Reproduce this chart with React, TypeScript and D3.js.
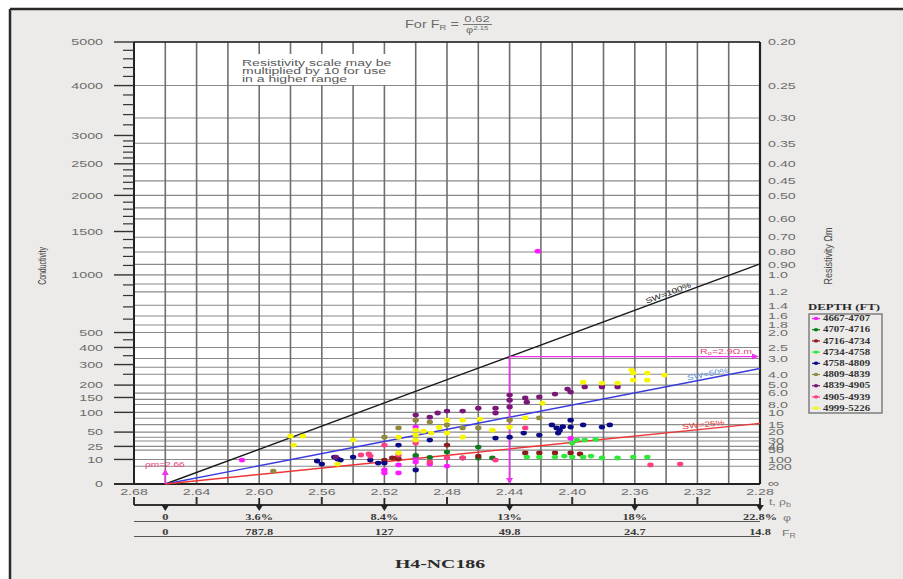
import React from "react";
import * as d3 from "d3";

// ---- Bulk density scale (g/cc) ----
const densityGrid = [2.68, 2.66, 2.64, 2.62, 2.6, 2.58, 2.56, 2.54, 2.52, 2.5, 2.48, 2.46, 2.44, 2.42, 2.4, 2.38, 2.36, 2.34, 2.32, 2.3, 2.28];
const densityLabels = [2.68, 2.64, 2.6, 2.56, 2.52, 2.48, 2.44, 2.4, 2.36, 2.32, 2.28];
const densityUpTicks = [2.68, 2.64, 2.56, 2.48, 2.4, 2.32];
const porosityDensities = [2.66, 2.6, 2.52, 2.44, 2.36, 2.28];
const porosityLabels = ["0", "3.6%", "8.4%", "13%", "18%", "22.8%"];
const formationFactorLabels = ["0", "787.8", "127", "49.8", "24.7", "14.8"];

// ---- Conductivity (mmho/m) and resistivity (ohm.m) scales ----
const conductivityLabels = [5000, 4000, 3000, 2500, 2000, 1500, 1000, 500, 400, 300, 200, 150, 100, 50, 25, 10, 0];
const conductivityMinor = [4800, 4600, 4400, 4200, 3800, 3600, 3400, 3200, 2900, 2800, 2700, 2600, 2400, 2300, 2200, 2100, 1900, 1800, 1700, 1600, 1400, 1300, 1200, 1100, 900, 800, 700, 600, 450, 350, 250];
const resistivityLabels = ["0.20", "0.25", "0.30", "0.35", "0.40", "0.45", "0.50", "0.60", "0.70", "0.80", "0.90", "1.0", "1.2", "1.4", "1.6", "1.8", "2.0", "2.5", "3.0", "4.0", "5.0", "6.0", "8.0", "10", "15", "20", "30", "40", "50", "100", "200"];
const resistivityExtraGrid = [0.55, 1.1, 3.5, 7.0, 12, 25];

// ---- Archie parameters ----
const tortuosityA = 0.62;
const cementationM = 2.15;
const saturationN = 2;
const matrixDensity = 2.66;
const fluidDensity = 1.0;
const roDensity = 2.44;
const roResistivity = 2.9;
const swValues = [1.0, 0.5, 0.25];
const swLabels = ["SW=100%", "SW=50%", "SW=25%"];

// ---- Depth intervals (ft) and readings [bulk density, conductivity] ----
const depthLabels = ["4667-4707", "4707-4716", "4716-4734", "4734-4758", "4758-4809", "4809-4839", "4839-4905", "4905-4939", "4999-5226"];

const depth4667 = [[2.611, 9.5], [2.52, 3.0], [2.52, 1.8], [2.511, 5.8], [2.511, 1.8], [2.5, 61], [2.5, 12], [2.5, 7.9], [2.48, 5.1], [2.401, 38], [2.422, 1260], [2.491, 6.4]];
const depth4707 = [[2.5, 14], [2.491, 12], [2.48, 17.6], [2.47, 11.3], [2.46, 24], [2.46, 11.3], [2.451, 11.3]];
const depth4716 = [[2.52, 9.5], [2.515, 11.3], [2.512, 11.3], [2.511, 10.4], [2.46, 13.2], [2.43, 16.5], [2.421, 16.5], [2.411, 16.5], [2.401, 16.5], [2.395, 15.4], [2.48, 27]];
const depth4734 = [[2.429, 12.2], [2.421, 12.2], [2.411, 12.2], [2.405, 13.2], [2.4, 12.2], [2.393, 12.2], [2.388, 13.2], [2.381, 11.3], [2.371, 11.3], [2.361, 12.2], [2.352, 12.2], [2.4, 30], [2.397, 35], [2.392, 35], [2.385, 36]];
const depth4758 = [[2.563, 8.7], [2.56, 6.4], [2.552, 12.2], [2.55, 10.4], [2.548, 9.5], [2.54, 12.2], [2.529, 9.5], [2.524, 7.1], [2.52, 7.1], [2.511, 27], [2.5, 3.0], [2.491, 35], [2.449, 38.5], [2.44, 40], [2.431, 48], [2.421, 44], [2.413, 66], [2.41, 59], [2.408, 54], [2.409, 48], [2.406, 62], [2.401, 78], [2.401, 61], [2.393, 66], [2.381, 61], [2.376, 66]];
const depth4809 = [[2.591, 2.5], [2.52, 40], [2.511, 59], [2.5, 78], [2.491, 73], [2.48, 66], [2.47, 59], [2.46, 59], [2.44, 78], [2.421, 84]];
const depth4839 = [[2.551, 12.2], [2.5, 92], [2.491, 86], [2.486, 98], [2.48, 104], [2.47, 104], [2.46, 113], [2.449, 113], [2.449, 98], [2.44, 159], [2.44, 140], [2.44, 117], [2.43, 148], [2.429, 133], [2.421, 152], [2.411, 163], [2.403, 183], [2.401, 171], [2.392, 192], [2.381, 192], [2.371, 192]];
const depth4905 = [[2.535, 14.3], [2.53, 15.4], [2.529, 13.2], [2.52, 27], [2.511, 14.3], [2.5, 30], [2.491, 7.9], [2.48, 11.3], [2.47, 11.3], [2.449, 9.5], [2.43, 59], [2.35, 5.8], [2.331, 6.4]];
const depth4999 = [[2.58, 42], [2.572, 42], [2.578, 27], [2.55, 6.4], [2.54, 35], [2.511, 16.5], [2.511, 40], [2.5, 54], [2.5, 44], [2.5, 35], [2.495, 52], [2.49, 48], [2.485, 60], [2.48, 78], [2.48, 48], [2.47, 78], [2.47, 40], [2.459, 81], [2.451, 54], [2.44, 61], [2.43, 84], [2.419, 130], [2.393, 213], [2.381, 209], [2.371, 209], [2.362, 271], [2.361, 256], [2.361, 222], [2.352, 256], [2.352, 222], [2.341, 246]];

const seriesPoints = [depth4667, depth4707, depth4716, depth4734, depth4758, depth4809, depth4839, depth4905, depth4999];
const seriesColors = ["#ff1aff", "#0b7d1a", "#8e1c1c", "#2fe83a", "#0a0a86", "#8f8a3c", "#7a1678", "#ff3d86", "#f6f600"];
const swColors = ["#1a1a1a", "#3a3ae0", "#ee3535"];
const swLabelColors = ["#1a1a1a", "#5f8fdc", "#e83a3a"];
const swLabelAt = [2.338, 2.313, 2.316];

// ---- layout ----
const W = 903;
const H = 579;
const left = 134;
const right = 760;
const top = 42;
const bottom = 484;

const x = d3.scaleLinear().domain([2.68, 2.28]).range([left, right]);
const y = d3.scalePow().exponent(1 / cementationM).domain([0, 5000]).range([bottom, top]);

const porosity = (rho: number) => (matrixDensity - rho) / (matrixDensity - fluidDensity);
const formationFactor = (rho: number) => tortuosityA / Math.pow(porosity(rho), cementationM);
const rw = roResistivity / formationFactor(roDensity);
const conductivityAt = (rho: number, sw: number) => {
  const phi = porosity(rho);
  if (phi <= 0) return 0;
  return (1000 * Math.pow(sw, saturationN)) / (formationFactor(rho) * rw);
};

const SANS = "'Liberation Sans', Arial, sans-serif";
const SERIF = "'Liberation Serif', 'Times New Roman', serif";

function T(props: {
  x: number; y: number; sx?: number; rot?: number; anchor?: string; size: number;
  fill?: string; family?: string; weight?: string | number; children: React.ReactNode;
}) {
  const { x: tx, y: ty, sx = 1.5, rot = 0, anchor = "start", size, fill = "#6b6b6b", family = SANS, weight = "normal", children } = props;
  return (
    <text
      transform={`translate(${tx},${ty}) rotate(${rot}) scale(${sx},1)`}
      textAnchor={anchor as any}
      fontSize={size}
      fill={fill}
      fontFamily={family}
      fontWeight={weight as any}
    >
      {children}
    </text>
  );
}

export default function App() {
  const resGrid = [...resistivityLabels.map(Number), ...resistivityExtraGrid];

  return (
    <svg width={W} height={H} style={{ position: "absolute", left: 0, top: 0, background: "#ffffff" }}>
      {/* sheet */}
      <rect x={10} y={9} width={W - 10} height={H - 9} fill="#ecebe9" />
      <line x1={10} y1={9} x2={W} y2={9} stroke="#2a2a2a" strokeWidth={2.5} />
      <line x1={10} y1={9} x2={10} y2={H} stroke="#2a2a2a" strokeWidth={2.5} />

      {/* title formula */}
      <text fontSize={10} fill="#6b6b6b" fontFamily={SANS} transform="translate(405,28) scale(1.45,1)">
        For F<tspan fontSize={6.5} dy={2}>R</tspan><tspan dy={-2}> =</tspan>
      </text>
      <T x={477} y={22} anchor="middle" size={9} sx={1.45}>0.62</T>
      <line x1={463} y1={24.5} x2={492} y2={24.5} stroke="#6b6b6b" strokeWidth={0.9} />
      <text fontSize={8.5} fill="#6b6b6b" fontFamily={SANS} transform="translate(466,33) scale(1.3,1)">
        φ<tspan fontSize={6} dy={-3.5}>2.15</tspan>
      </text>

      {/* plot background */}
      <rect x={left} y={top} width={right - left} height={bottom - top} fill="#ffffff" />

      {/* horizontal grid (resistivity) */}
      {resGrid.map((r, i) => (
        <line key={`h${i}`} x1={left} x2={right} y1={y(1000 / r)} y2={y(1000 / r)} stroke="#8a8a8a" strokeWidth={1.1} />
      ))}
      {/* vertical grid (density) */}
      {densityGrid.map((d, i) => (
        <line key={`v${i}`} x1={x(d)} x2={x(d)} y1={top} y2={bottom} stroke="#6f6f6f" strokeWidth={1.6} />
      ))}

      {/* note */}
      <rect x={238} y={54} width={168} height={31} fill="#ffffff" />
      <T x={242} y={66} size={8.5} sx={1.65} fill="#5a5a5a">Resistivity scale may be</T>
      <T x={242} y={74} size={8.5} sx={1.65} fill="#5a5a5a">multiplied by 10 for use</T>
      <T x={242} y={82} size={8.5} sx={1.65} fill="#5a5a5a">in a higher range</T>

      {/* frame */}
      <line x1={left} x2={right} y1={top} y2={top} stroke="#222" strokeWidth={1.6} />
      <line x1={left} x2={left} y1={top} y2={bottom} stroke="#222" strokeWidth={2} />
      <line x1={right} x2={right} y1={top} y2={bottom} stroke="#222" strokeWidth={2.2} />
      <line x1={114} x2={right} y1={bottom} y2={bottom} stroke="#222" strokeWidth={2} />

      {/* left conductivity axis */}
      {conductivityLabels.map((c) => (
        <g key={`cl${c}`}>
          <line x1={114} x2={left} y1={y(c)} y2={y(c)} stroke="#333" strokeWidth={1.4} />
          <T x={103} y={y(c) + 3.3} anchor="end" size={9.5}>{String(c)}</T>
        </g>
      ))}
      {conductivityMinor.map((c) => (
        <line key={`cm${c}`} x1={123} x2={left} y1={y(c)} y2={y(c)} stroke="#333" strokeWidth={1.2} />
      ))}
      <T x={46} y={266} rot={-90} anchor="middle" size={11} sx={0.63} fill="#3a3a3a">Conductivity</T>

      {/* right resistivity axis */}
      {resistivityLabels.map((r) => (
        <T key={`rl${r}`} x={768} y={y(1000 / Number(r)) + 3.3} size={9.5}>{r}</T>
      ))}
      <T x={768} y={y(0) + 3} size={11} sx={1.5}>∞</T>
      <T x={832} y={256} rot={-90} anchor="middle" size={11.5} sx={0.78} fill="#4a4a4a">Resistivity  Ωm</T>

      {/* saturation lines */}
      {swValues.map((sw, i) => {
        const dens = [matrixDensity, 2.47, 2.28];
        const path = d3.line<number>().x((r) => x(r)).y((r) => y(conductivityAt(r, sw)))(dens) || "";
        const lx = x(swLabelAt[i]);
        const ly = y(conductivityAt(swLabelAt[i], sw));
        const ang = (Math.atan2(y(conductivityAt(2.28, sw)) - y(0), x(2.28) - x(matrixDensity)) * 180) / Math.PI;
        return (
          <g key={`sw${i}`}>
            <path d={path} fill="none" stroke={swColors[i]} strokeWidth={1.4} />
            <T x={lx} y={ly - 2} rot={ang} anchor="middle" size={7.5} sx={1.35} fill={swLabelColors[i]}>{swLabels[i]}</T>
          </g>
        );
      })}

      {/* Ro construction */}
      {(() => {
        const px = x(roDensity);
        const py = y(1000 / roResistivity);
        const c = "#ee33ee";
        return (
          <g>
            <line x1={px} x2={px} y1={py} y2={bottom - 5} stroke={c} strokeWidth={1.6} />
            <path d={`M${px - 3.5},${bottom - 6} L${px + 3.5},${bottom - 6} L${px},${bottom} Z`} fill={c} />
            <line x1={px} x2={right - 7} y1={py} y2={py} stroke={c} strokeWidth={1.3} />
            <path d={`M${right - 8},${py - 3} L${right - 8},${py + 3} L${right - 1},${py} Z`} fill={c} />
            <text transform={`translate(700,${py - 3}) scale(1.4,1)`} fontSize={7.5} fill="#e8407a" fontFamily={SANS}>
              R<tspan fontSize={5.5} dy={1.5}>o</tspan><tspan dy={-1.5}>=2.9Ω.m</tspan>
            </text>
          </g>
        );
      })()}

      {/* matrix density marker */}
      {(() => {
        const mx = x(matrixDensity);
        const c = "#ee33ee";
        return (
          <g>
            <line x1={mx} x2={mx} y1={bottom} y2={474} stroke={c} strokeWidth={1.6} />
            <path d={`M${mx - 3.5},${475} L${mx + 3.5},${475} L${mx},${469} Z`} fill={c} />
            <T x={145} y={467} size={7.5} sx={1.35} fill="#e8407a">ρm=2.66</T>
          </g>
        );
      })()}

      {/* readings */}
      {seriesPoints.map((pts, si) => (
        <g key={`s${si}`}>
          {pts.map((p, j) => (
            <ellipse key={j} cx={x(p[0])} cy={y(p[1])} rx={3.2} ry={2.4} fill={seriesColors[si]} />
          ))}
        </g>
      ))}

      {/* density labels */}
      {densityLabels.map((d) => (
        <T key={`dl${d}`} x={x(d)} y={495} anchor="middle" size={9.5}>{d.toFixed(2)}</T>
      ))}

      {/* density / porosity / formation factor scales */}
      <line x1={left} x2={right} y1={505} y2={505} stroke="#333" strokeWidth={2} />
      {densityUpTicks.map((d) => (
        <line key={`ut${d}`} x1={x(d)} x2={x(d)} y1={505} y2={497} stroke="#333" strokeWidth={2} />
      ))}
      {porosityDensities.map((d, i) => (
        <g key={`pa${d}`}>
          {i > 0 && <line x1={x(d)} x2={x(d)} y1={498} y2={506} stroke="#222" strokeWidth={1.8} />}
          <path d={`M${x(d) - 3.8},${505} L${x(d) + 3.8},${505} L${x(d)},${511} Z`} fill="#222" />
          <T x={x(d)} y={519.5} anchor="middle" size={8} sx={1.55} family={SERIF} weight="bold" fill="#3a3a3a">{porosityLabels[i]}</T>
          <T x={x(d)} y={534.5} anchor="middle" size={8} sx={1.55} family={SERIF} weight="bold" fill="#3a3a3a">{formationFactorLabels[i]}</T>
        </g>
      ))}
      <line x1={left} x2={right} y1={521.5} y2={521.5} stroke="#555" strokeWidth={1} />
      <line x1={left} x2={right} y1={536.5} y2={536.5} stroke="#555" strokeWidth={1} />
      <text transform="translate(769,505) scale(1.35,1)" fontSize={9} fill="#777" fontFamily={SANS}>
        t, ρ<tspan fontSize={6.5} dy={2}>b</tspan>
      </text>
      <T x={783} y={521} size={9.5} sx={1.3} fill="#777">φ</T>
      <text transform="translate(782,536) scale(1.35,1)" fontSize={9} fill="#777" fontFamily={SANS}>
        F<tspan fontSize={6.5} dy={2}>R</tspan>
      </text>

      {/* well name */}
      <T x={440} y={568} anchor="middle" size={12} sx={1.65} family={SERIF} weight="bold" fill="#2a2a2a">H4-NC186</T>

      {/* legend */}
      <T x={808} y={310} size={9} sx={1.42} family={SERIF} weight="bold" fill="#2a2a2a">DEPTH (FT)</T>
      <rect x={809} y={314} width={73} height={99} fill="none" stroke="#777" strokeWidth={1.4} />
      {depthLabels.map((lab, i) => {
        const ly = 318.5 + i * 11.2;
        return (
          <g key={`lg${i}`}>
            <line x1={812} x2={820} y1={ly} y2={ly} stroke={seriesColors[i]} strokeWidth={1.2} />
            <ellipse cx={816} cy={ly} rx={2.2} ry={1.7} fill={seriesColors[i]} />
            <T x={823} y={ly + 2.6} size={7.5} sx={1.45} family={SERIF} weight="bold" fill="#333">{lab}</T>
          </g>
        );
      })}
    </svg>
  );
}
